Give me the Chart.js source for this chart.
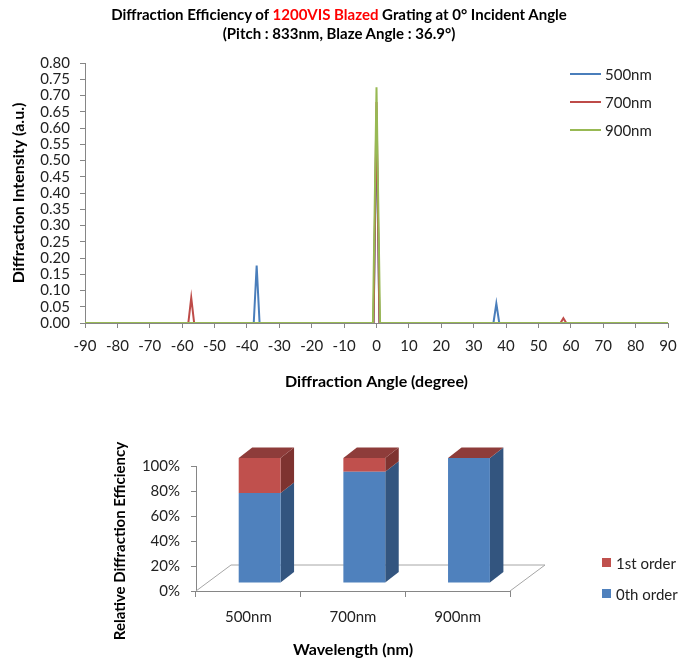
<!DOCTYPE html>
<html>
<head>
<meta charset="utf-8">
<script src="https://cdn.jsdelivr.net/npm/chart.js@4.4.1/dist/chart.umd.min.js"></script>
<style>
  body { margin: 0; background: #fff; width: 678px; height: 661px; position: relative; overflow: hidden; font-family: Lato, sans-serif; }
  #title { position: absolute; left: 0; top: 5px; width: 678px; text-align: center; font-weight: bold; font-size: 15px; line-height: 19px; color: #000; }
  #title .hl { color: #ff0000; }
  #lineChart { position: absolute; left: 0; top: 0; }
  #barChart { position: absolute; left: 0; top: 400px; }
</style>
</head>
<body>
<canvas id="lineChart" width="678" height="400"></canvas>
<canvas id="barChart" width="678" height="261"></canvas>
<div id="title">Diffraction Efficiency of <span class="hl">1200VIS Blazed</span> Grating at 0° Incident Angle<br>(Pitch : 833nm, Blaze Angle : 36.9°)</div>
<script>
// --- data: diffraction spectra (angle in degree, intensity a.u.) ---
const angle500 = [-90, -37.9, -37, -36.1, -0.9, 0, 0.9, 36.1, 37, 37.9, 90];
const int500   = [0, 0, 0.177, 0, 0, 0.62, 0, 0, 0.06, 0, 0];
const angle700 = [-90, -58.1, -57.2, -56.3, -0.9, 0, 0.9, 56.8, 57.7, 58.6, 90];
const int700   = [0, 0, 0.078, 0, 0, 0.68, 0, 0, 0.015, 0, 0];
const angle900 = [-90, -1.1, 0, 1.1, 90];
const int900   = [0, 0, 0.725, 0, 0];

// --- data: relative efficiency ---
const wavelengths = ['500nm', '700nm', '900nm'];
const order0 = [0.72, 0.89, 1.00];
const order1 = [0.28, 0.11, 0.00];

const FONT = 'Lato, sans-serif';
const AXIS_GRAY = '#868686';

function toPoints(xs, ys) {
    return xs.map((x, i) => ({ x: x, y: ys[i] }));
}

// legend drawn inside the plot area, top right
const lineLegend = {
    id: 'lineLegend',
    afterDraw(chart) {
        const ctx = chart.ctx;
        ctx.save();
        ctx.font = '15px ' + FONT;
        ctx.textBaseline = 'middle';
        chart.data.datasets.forEach((ds, i) => {
            const y = 74 + i * 28;
            ctx.strokeStyle = ds.borderColor;
            ctx.lineWidth = 2;
            ctx.beginPath();
            ctx.moveTo(570, y);
            ctx.lineTo(601, y);
            ctx.stroke();
            ctx.fillStyle = '#222';
            ctx.fillText(ds.label, 605, y + 1);
        });
        ctx.restore();
    }
};

new Chart(document.getElementById('lineChart'), {
    type: 'line',
    data: {
        datasets: [
            { label: '500nm', data: toPoints(angle500, int500), borderColor: '#4A7EBB', order: 3 },
            { label: '700nm', data: toPoints(angle700, int700), borderColor: '#BE4B48', order: 2 },
            { label: '900nm', data: toPoints(angle900, int900), borderColor: '#98B954', order: 1 }
        ]
    },
    options: {
        responsive: false,
        animation: false,
        layout: { padding: { top: 63, right: 10, left: 0, bottom: 0 } },
        elements: {
            line: { borderWidth: 2, tension: 0 },
            point: { radius: 0 }
        },
        plugins: {
            legend: { display: false },
            tooltip: { enabled: false }
        },
        scales: {
            x: {
                type: 'linear',
                min: -90,
                max: 90,
                ticks: { stepSize: 10, autoSkip: false, maxRotation: 0, padding: 9, color: '#222', font: { family: FONT, size: 15 } },
                grid: { drawOnChartArea: false, drawTicks: true, tickLength: 5, color: AXIS_GRAY },
                border: { color: AXIS_GRAY },
                title: { display: true, text: 'Diffraction Angle (degree)', color: '#000', font: { family: FONT, size: 16, weight: 'bold' }, padding: { top: 4, bottom: 9 } },
                afterFit(scale) {
                    scale.height = 77;
                    // let the end labels hang over the layout padding instead of shrinking the plot
                    scale.paddingLeft = 0;
                    scale.paddingRight = 0;
                }
            },
            y: {
                min: 0,
                max: 0.8,
                ticks: { stepSize: 0.05, autoSkip: false, padding: 10, color: '#222', font: { family: FONT, size: 15 }, callback: v => v.toFixed(2) },
                grid: { drawOnChartArea: false, drawTicks: true, tickLength: 5, color: AXIS_GRAY },
                border: { color: AXIS_GRAY },
                title: { display: true, text: 'Diffraction Intensity (a.u.)', color: '#000', font: { family: FONT, size: 16, weight: 'bold' }, padding: { top: 9, bottom: 0 } },
                afterFit(scale) { scale.width = 85; }
            }
        }
    },
    plugins: [lineLegend]
});

// --- 3D look for the stacked bars ---
const FLOOR_DX = 35, FLOOR_DY = -26;   // floor depth
const SHIFT_X = 11.3, SHIFT_Y = -8;    // bars sit in the middle of the floor
const DEPTH_X = 13.5, DEPTH_Y = -10.5; // bar depth

function quad(ctx, p) {
    ctx.beginPath();
    ctx.moveTo(p[0], p[1]);
    ctx.lineTo(p[2], p[3]);
    ctx.lineTo(p[4], p[5]);
    ctx.lineTo(p[6], p[7]);
    ctx.closePath();
    ctx.fill();
}

const bars3d = {
    id: 'bars3d',
    beforeDatasetsDraw(chart) {
        const { ctx, chartArea: a } = chart;
        // floor outline
        ctx.save();
        ctx.strokeStyle = '#A6A6A6';
        ctx.lineWidth = 1;
        ctx.beginPath();
        ctx.moveTo(a.left, a.bottom);
        ctx.lineTo(a.left + FLOOR_DX, a.bottom + FLOOR_DY);
        ctx.lineTo(a.right + FLOOR_DX, a.bottom + FLOOR_DY);
        ctx.lineTo(a.right, a.bottom);
        ctx.stroke();
        ctx.restore();

        ctx.save();
        ctx.translate(SHIFT_X, SHIFT_Y);
        const last = chart.data.datasets.length - 1;
        chart.data.datasets.forEach((ds, di) => {
            chart.getDatasetMeta(di).data.forEach(bar => {
                const l = bar.x - bar.width / 2, r = bar.x + bar.width / 2;
                const top = Math.min(bar.y, bar.base), bot = Math.max(bar.y, bar.base);
                ctx.fillStyle = ds.sideColor;
                quad(ctx, [r, top, r + DEPTH_X, top + DEPTH_Y, r + DEPTH_X, bot + DEPTH_Y, r, bot]);
                if (di === last) {
                    ctx.fillStyle = ds.topColor;
                    quad(ctx, [l, top, l + DEPTH_X, top + DEPTH_Y, r + DEPTH_X, top + DEPTH_Y, r, top]);
                }
            });
        });
        // bars' front faces are drawn by Chart.js in this shifted context
    },
    afterDatasetsDraw(chart) {
        chart.ctx.restore();
    },
    afterDraw(chart) {
        const ctx = chart.ctx;
        ctx.save();
        // y axis title, placed like the original (a bit below the axis centre)
        ctx.font = 'bold 15px ' + FONT;
        ctx.fillStyle = '#000';
        ctx.textAlign = 'center';
        ctx.textBaseline = 'middle';
        ctx.translate(120, 141);
        ctx.rotate(-Math.PI / 2);
        ctx.fillText('Relative Diffraction Efficiency', 0, 0);
        ctx.restore();

        ctx.save();
        ctx.font = '15px ' + FONT;
        ctx.textBaseline = 'middle';
        const items = chart.data.datasets.slice().reverse();
        items.forEach((ds, i) => {
            const y = 163 + i * 31;
            ctx.fillStyle = ds.backgroundColor;
            ctx.fillRect(602, y - 5, 9, 9);
            ctx.fillStyle = '#222';
            ctx.fillText(ds.label, 616, y + 1);
        });
        ctx.restore();
    }
};

new Chart(document.getElementById('barChart'), {
    type: 'bar',
    data: {
        labels: wavelengths,
        datasets: [
            { label: '0th order', data: order0, backgroundColor: '#4F81BD', sideColor: '#33557F', topColor: '#3E679A' },
            { label: '1st order', data: order1, backgroundColor: '#C0504D', sideColor: '#7E3330', topColor: '#8E3C3A' }
        ]
    },
    options: {
        responsive: false,
        animation: false,
        layout: { padding: { top: 66, right: 168, left: 104, bottom: 0 } },
        datasets: {
            bar: { barPercentage: 0.4, categoryPercentage: 1.0, borderWidth: 0, clip: false }
        },
        plugins: {
            legend: { display: false },
            tooltip: { enabled: false }
        },
        scales: {
            x: {
                stacked: true,
                ticks: { padding: 11, color: '#222', font: { family: FONT, size: 15 } },
                grid: { drawOnChartArea: false, drawTicks: true, tickLength: 6, color: AXIS_GRAY },
                border: { color: AXIS_GRAY },
                title: { display: true, text: 'Wavelength (nm)', color: '#000', font: { family: FONT, size: 16, weight: 'bold' }, padding: { top: 4, bottom: 2 } },
                afterFit(scale) { scale.height = 70; }
            },
            y: {
                stacked: true,
                min: 0,
                max: 1,
                ticks: { stepSize: 0.2, padding: 11, color: '#222', font: { family: FONT, size: 15 }, callback: v => Math.round(v * 100) + '%' },
                grid: { drawOnChartArea: false, drawTicks: true, tickLength: 5, color: AXIS_GRAY },
                border: { color: AXIS_GRAY },
                afterFit(scale) { scale.width = 92; }
            }
        }
    },
    plugins: [bars3d]
});
</script>
</body>
</html>
